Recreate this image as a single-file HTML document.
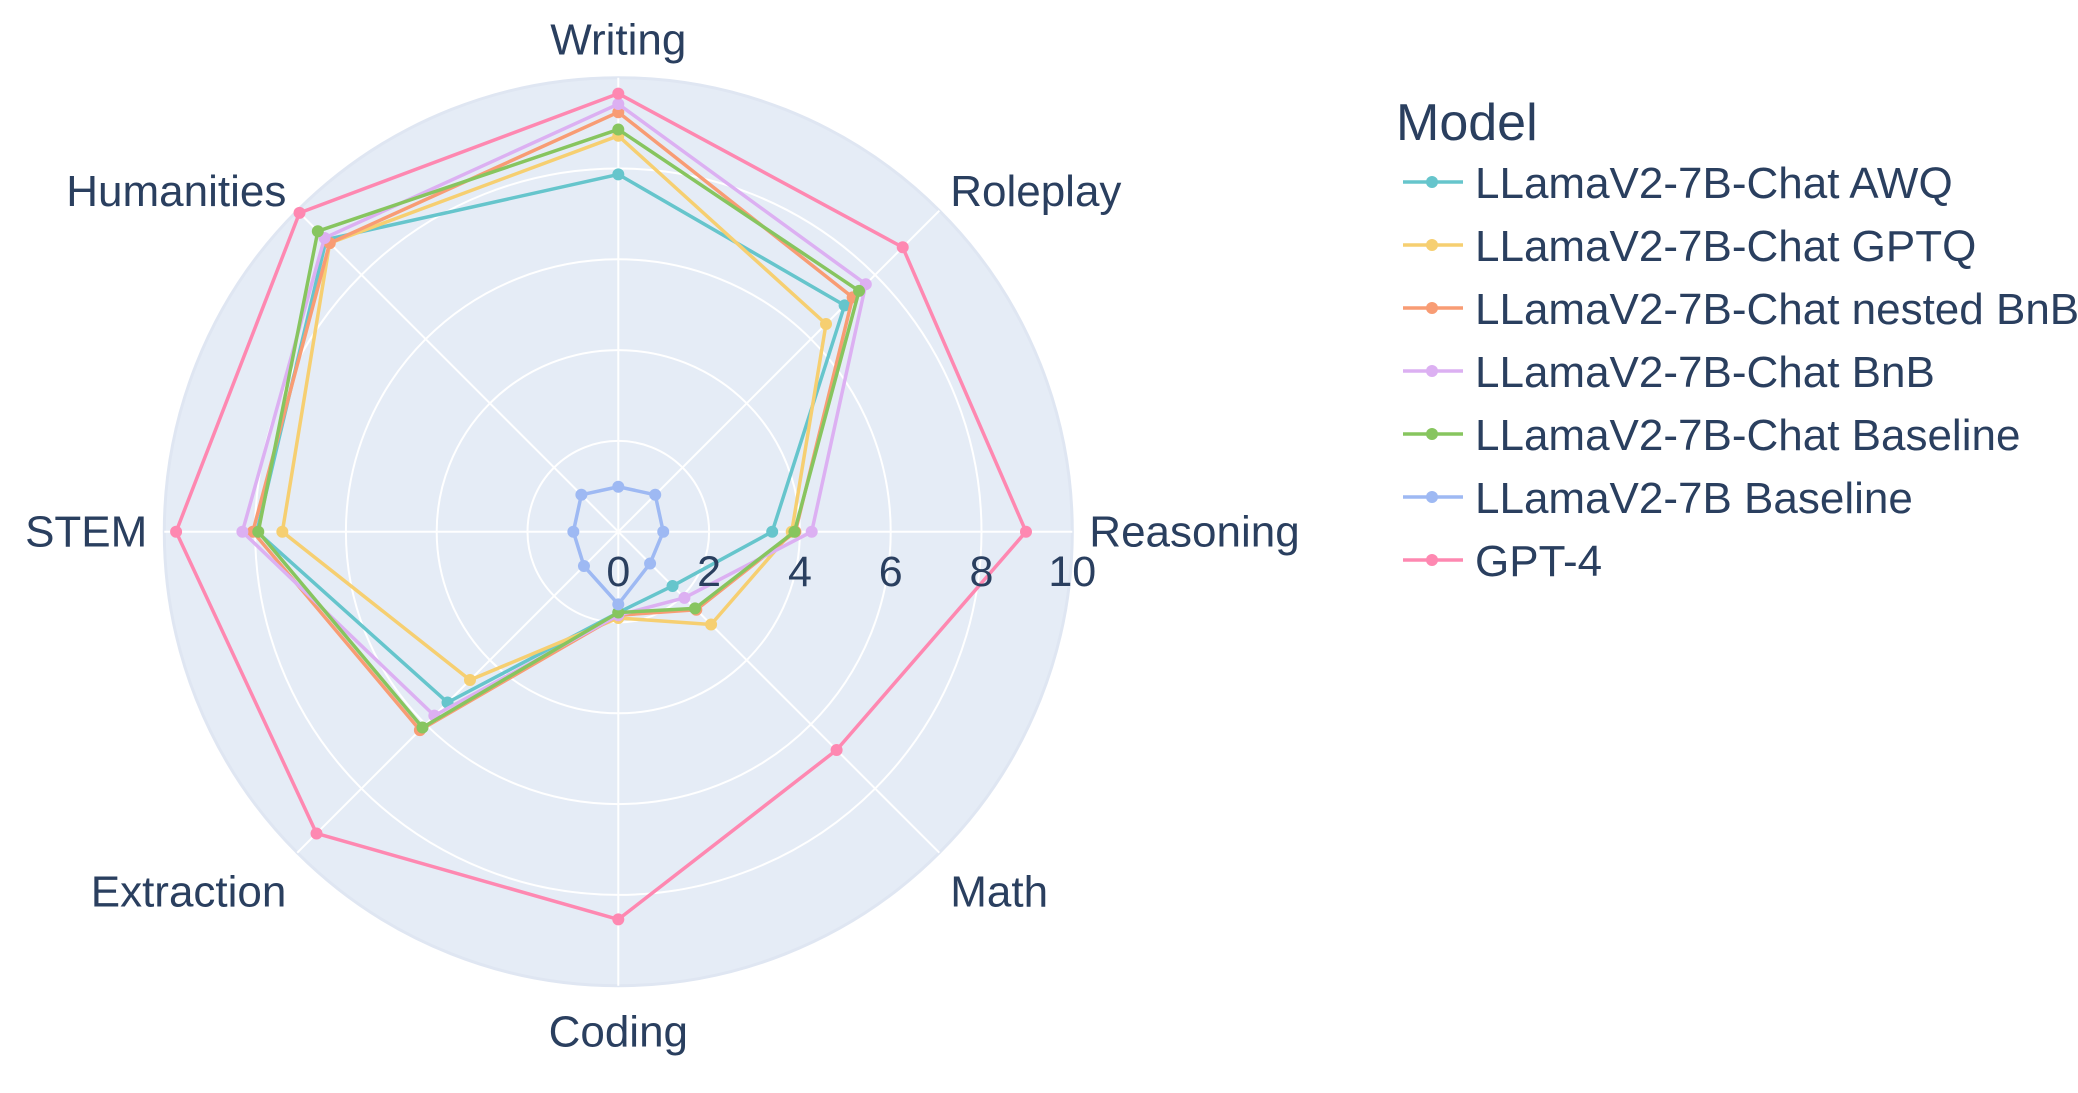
<!DOCTYPE html>
<html><head><meta charset="utf-8"><style>
body{margin:0;background:#fff;}
svg text{font-family:"Liberation Sans",sans-serif;fill:#2a3f5f;}
</style></head><body>
<svg width="2078" height="1088" viewBox="0 0 2078 1088">
<g id="grid"></g>
<g id="series"></g>
<g id="labels"></g>
<g id="legend"></g>
</svg>
<script>
const categories = ["Writing","Roleplay","Reasoning","Math","Coding","Extraction","STEM","Humanities"];
const seriesNames = ["LLamaV2-7B-Chat AWQ","LLamaV2-7B-Chat GPTQ","LLamaV2-7B-Chat nested BnB","LLamaV2-7B-Chat BnB","LLamaV2-7B-Chat Baseline","LLamaV2-7B Baseline","GPT-4"];
const seriesColors = ["#66C5CC","#F6CF71","#F89C74","#DCB0F2","#87C55F","#9EB9F3","#FE88B1"];
const awq = [7.87,7.05,3.39,1.69,1.78,5.32,7.96,9.1];
const gptq = [8.72,6.47,3.82,2.89,1.9,4.62,7.4,8.99];
const nestedBnb = [9.24,7.3,3.9,2.43,1.84,6.18,8.05,8.99];
const bnb = [9.42,7.71,4.26,2.06,1.84,5.73,8.28,9.15];
const chatBaseline = [8.86,7.5,3.88,2.39,1.78,6.1,7.93,9.36];
const baseBaseline = [0.99,1.15,0.99,0.99,1.6,1.07,0.99,1.15];
const gpt4 = [9.65,8.86,8.98,6.8,8.54,9.4,9.74,9.93];
const tickValues = [0,2,4,6,8,10];
const allSeries = [awq,gptq,nestedBnb,bnb,chatBaseline,baseBaseline,gpt4];

const NS="http://www.w3.org/2000/svg";
const CX=618.3, CY=531.7, R=454, RMAX=10;
function rScale(v){return v/RMAX*R;}
function angle(i){return Math.PI/2 - i*2*Math.PI/categories.length;}
function pt(i,v){const a=angle(i),r=rScale(v);return [CX+r*Math.cos(a),CY-r*Math.sin(a)];}
function mk(tag,attrs,parent){const e=document.createElementNS(NS,tag);for(const k in attrs)e.setAttribute(k,attrs[k]);parent.appendChild(e);return e;}

const grid=document.getElementById('grid');
let bg=mk('circle',{cx:CX,cy:CY,r:R,fill:'#E5ECF6',stroke:'#dfe6f2','stroke-width':3},grid);


tickValues.slice(1,-1).forEach(t=>{
  const c=mk('circle',{cx:CX,cy:CY,r:rScale(t),fill:'none',stroke:'#fff','stroke-width':2},grid);
  
  
});
categories.forEach((c,i)=>{
  const [x,y]=pt(i,RMAX);
  const l=mk('line',{x1:CX,y1:CY,x2:x,y2:y,stroke:'#fff','stroke-width':2},grid);
  
  
});

const sg=document.getElementById('series');
allSeries.forEach((vals,s)=>{
  const g=mk('g',{},sg);
  
  
  const pts=vals.map((v,i)=>pt(i,v));
  const poly=mk('polygon',{points:pts.map(p=>p.join(',')).join(' '),fill:'none',stroke:seriesColors[s],'stroke-width':3.5,'stroke-linejoin':'round'},g);
  
  
  pts.forEach(p=>{
    const d=mk('circle',{cx:p[0],cy:p[1],r:6,fill:seriesColors[s]},g);
    
    
  });
});

const lg=document.getElementById('labels');
tickValues.forEach(t=>{
  const tx=mk('text',{x:CX+rScale(t),y:586,'font-size':43,'text-anchor':'middle'},lg);
  tx.textContent=t;
  
  
});
categories.forEach((c,i)=>{
  const a=angle(i);
  const cs=Math.cos(a), sn=Math.sin(a);
  let x,y,anchor;
  if(Math.abs(cs)<0.1){ anchor='middle'; x=CX; y = sn>0 ? CY-R-23 : CY+R+61; }
  else if(Math.abs(sn)<0.1){ anchor=cs>0?'start':'end'; x=CX+cs*(R+17); y=CY+15; }
  else {
    anchor=cs>0?'start':'end';
    const r=R+14;
    x=CX+r*cs + (cs>0?1:-1);
    y=CY-r*sn + (sn>0?5:44);
  }
  const tx=mk('text',{x:x,y:y,'font-size':44,'text-anchor':anchor},lg);
  tx.textContent=c;
  
  
});

const leg=document.getElementById('legend');
const title=mk('text',{x:1396,y:140,'font-size':52},leg);
title.textContent='Model';


seriesNames.forEach((n,s)=>{
  const y=182+s*63;
  const g=mk('g',{},leg);
  
  
  mk('line',{x1:1403,y1:y,x2:1463,y2:y,stroke:seriesColors[s],'stroke-width':3.5},g);
  mk('circle',{cx:1432,cy:y,r:6,fill:seriesColors[s]},g);
  const t=mk('text',{x:1475,y:y+16,'font-size':44},g);
  t.textContent=n;
});
</script>
</body></html>
